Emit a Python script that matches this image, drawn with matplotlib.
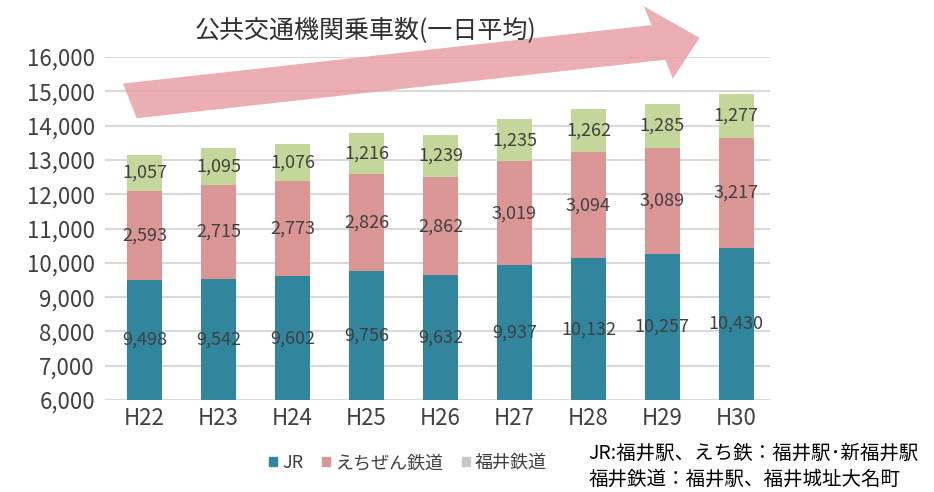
import matplotlib
matplotlib.use("Agg")
import matplotlib.pyplot as plt
from matplotlib.patches import FancyArrow, Patch

plt.rcParams['font.family'] = ['Noto Sans CJK JP', 'DejaVu Sans']

years = ['H22', 'H23', 'H24', 'H25', 'H26', 'H27', 'H28', 'H29', 'H30']
jr = [9498, 9542, 9602, 9756, 9632, 9937, 10132, 10257, 10430]
echizen = [2593, 2715, 2773, 2826, 2862, 3019, 3094, 3089, 3217]
fukui = [1057, 1095, 1076, 1216, 1239, 1235, 1262, 1285, 1277]

series = [
    ('JR', jr, '#31859C'),
    ('えちぜん鉄道', echizen, '#DA9694'),
    ('福井鉄道', fukui, '#C4D79B'),
]

YMIN, YMAX = 6000, 16000

fig = plt.figure(figsize=(9.34, 4.92), dpi=100)
ax = fig.add_axes([0.112, 0.187, 0.712, 0.697])

x = list(range(len(years)))
bottom = [0] * len(years)
for name, vals, col in series:
    ax.bar(x, vals, 0.47, bottom=bottom, color=col, label=name, zorder=2)
    # value label in the middle of the visible part of each segment
    for i, v in enumerate(vals):
        lo = max(bottom[i], YMIN)
        hi = bottom[i] + v
        ax.text(i, (lo + hi) / 2, f'{v:,}', ha='center', va='center',
                fontsize=13, color='#404040', zorder=3)
    bottom = [b + v for b, v in zip(bottom, vals)]

ax.set_ylim(YMIN, YMAX)
ax.set_xlim(-0.54, 8.45)
ax.set_yticks(range(YMIN, YMAX + 1, 1000))
ax.set_yticklabels([f'{t:,}' for t in range(YMIN, YMAX + 1, 1000)])
ax.set_xticks(x)
ax.set_xticklabels(years)
ax.tick_params(axis='both', length=0, labelsize=16, colors='#404040')
ax.tick_params(axis='x', pad=5)
ax.tick_params(axis='y', pad=7)
ax.grid(axis='y', color='#D9D9D9', linewidth=1.5, zorder=0)
for s in ax.spines.values():
    s.set_visible(False)

# big pink trend arrow
arr = FancyArrow(0.139, 0.795, 0.61, 0.128, width=0.072, head_width=0.15,
                 head_length=0.045, length_includes_head=True,
                 transform=fig.transFigure, color='#E59AA0', alpha=0.8,
                 linewidth=0, zorder=5)
fig.add_artist(arr)
fig.text(0.209, 0.937, '公共交通機関乗車数(一日平均)', fontsize=18, color='#303030',
         ha='left', va='center', zorder=6)

handles = [Patch(color=c) for _, _, c in series[:2]] + [Patch(color='#C8C8C8')]
fig.legend(handles, [n for n, _, _ in series], loc='center', bbox_to_anchor=(0.437, 0.059),
           ncol=3, frameon=False, fontsize=13, handlelength=0.45, handleheight=0.45,
           handletextpad=0.3, columnspacing=1.0, labelcolor='#404040')

fig.text(0.630, 0.078, 'JR:福井駅、えち鉄：福井駅･新福井駅', fontsize=14, color='black', va='center')
fig.text(0.630, 0.025, '福井鉄道：福井駅、福井城址大名町', fontsize=14, color='black', va='center')

fig.savefig('out.png', dpi=100)
